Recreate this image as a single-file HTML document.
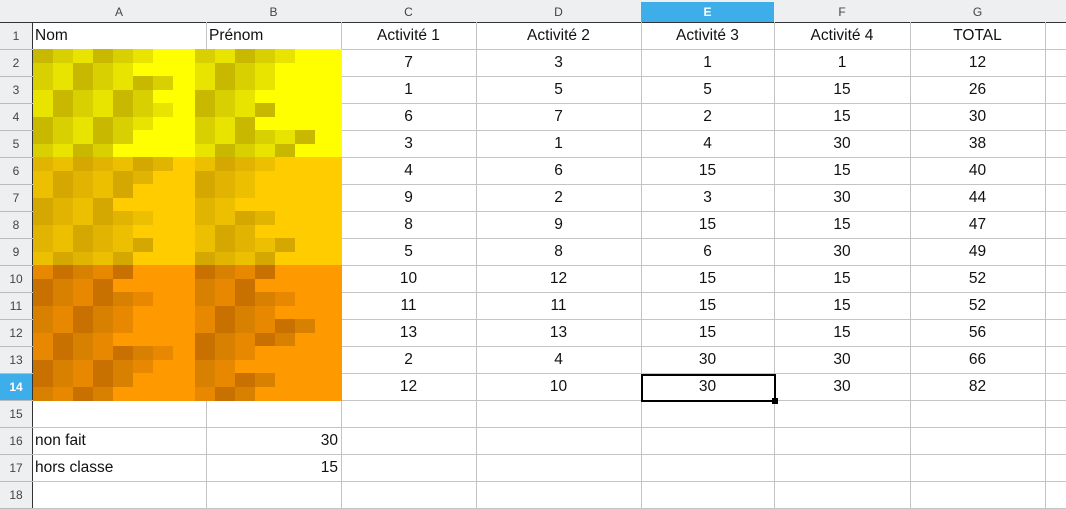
<!DOCTYPE html>
<html><head><meta charset="utf-8">
<style>
html,body{margin:0;padding:0;width:1066px;height:495px;overflow:hidden;background:#fff;font-family:"Liberation Sans",sans-serif}
.abs{position:absolute;box-sizing:border-box}
.ch{background:#eeeff1;color:#444;font-size:12px;text-align:center;line-height:20px;border-right:1px solid #333;border-bottom:1px solid #333;top:2px;height:21px}
.rh{background:#eeeff1;color:#444;font-size:12px;text-align:center;line-height:27px;left:0;width:33px;border-right:1px solid #333;border-bottom:1px solid #bbb}
.cell{border-right:1px solid #c4c4c4;border-bottom:1px solid #c4c4c4;font-size:15.5px;line-height:27px;color:#111;white-space:nowrap;overflow:hidden}
</style></head><body>
<div id="root"></div>
<script>
const colLetters=['A','B','C','D','E','F','G','H'];
const colEdges=[33,207,342,477,642,775,911,1046,1100];
const headers=['Nom','Prénom','Activité 1','Activité 2','Activité 3','Activité 4','TOTAL'];
const act1=[7,1,6,3,4,9,8,5,10,11,13,2,12];
const act2=[3,5,7,1,6,2,9,8,12,11,13,4,10];
const act3=[1,5,2,4,15,3,15,6,15,15,15,30,30];
const act4=[1,15,15,30,15,30,15,30,15,15,15,30,30];
const total=[12,26,30,38,40,44,47,49,52,52,56,66,82];
const ROW0=23,RH=27,NROWS=18;
const root=document.getElementById('root');
function mk(cls,x,y,w,h,txt){const d=document.createElement('div');d.className='abs '+cls;d.style.left=x+'px';d.style.top=y+'px';d.style.width=w+'px';d.style.height=h+'px';if(txt!==undefined)d.textContent=txt;root.appendChild(d);return d;}
// top strip
let c=mk('',0,0,1066,3);c.style.background='#eeeff1';c.style.borderBottom='1px solid #999';


c=mk('ch',0,2,33,21);


for(let i=0;i<colLetters.length;i++){
 const x=colEdges[i]-1,w=colEdges[i+1]-colEdges[i];
 const h=mk('ch',x,2,w+1,21,colLetters[i]);
 if(colLetters[i]==='E'){h.style.background='#3daee9';h.style.color='#fff';h.style.fontWeight='bold';}
 
 
}
for(let r=0;r<NROWS;r++){
 const y=ROW0+r*RH;
 const h=mk('rh',0,y,33,RH,String(r+1));
 if(r===13){h.style.background='#3daee9';h.style.color='#fff';h.style.fontWeight='bold';}
 
 
 for(let i=0;i<colLetters.length;i++){
  const x=colEdges[i]-1,w=colEdges[i+1]-colEdges[i]+1;
  const cell=mk('cell',x,y-1,w,RH+1);
  cell.style.padding='0 3px';
  
  
  let t='';
  if(r===0&&i<7)t=headers[i];
  else if(r>=1&&r<=13){const k=r-1;t=[null,null,act1[k],act2[k],act3[k],act4[k],total[k]][i];if(t===null)t='';}
  if(r===15){if(i===0)t='non fait';if(i===1)t='30';}
  if(r===16){if(i===0)t='hors classe';if(i===1)t='15';}
  cell.textContent=t;
  if(i>=2)cell.style.textAlign='center';
  if(i===1&&r>=15)cell.style.textAlign='right';
 }
}
// colored name fills (pixelated)
const rowColors=['#ffff00','#ffff00','#ffff00','#ffff00','#ffcc00','#ffcc00','#ffcc00','#ffcc00','#ff9900','#ff9900','#ff9900','#ff9900','#ff9900'];
const shade={'#ffff00':['#c8b800','#d8d000','#e8e400'],'#ffcc00':['#d4a800','#e0b400','#ecc000'],'#ff9900':['#c87000','#d88000','#e88800']};
const blocksA=[6,7,7,5,7,5,6,6,5,6,5,7,5];
const blocksB=[5,4,4,6,4,3,4,5,4,5,6,3,4];
for(let r=0;r<13;r++){
 const y=ROW0+(r+1)*RH-1;
 const f=mk('',33,y,309,RH+1);f.style.background=rowColors[r];
 
 
 const s=shade[rowColors[r]];
 for(let half=0;half<2;half++){
  const y2=y+(half?14:0);
  for(let b=0;b<blocksA[r]-half;b++){const d=mk('',33+b*20,y2,20,14);d.style.background=s[(b+r+half)%3];
   
   }
  for(let b=0;b<blocksB[r]-half;b++){const d=mk('',195+b*20,y2,20,14);d.style.background=s[(b+r+1+half)%3];
   
   }
 }
}
// selected cell
const sel=mk('',641,374,135,28);sel.style.border='2px solid #000';


const hd=mk('',772,398,6,6);hd.style.background='#000';


</script>
</body></html>
